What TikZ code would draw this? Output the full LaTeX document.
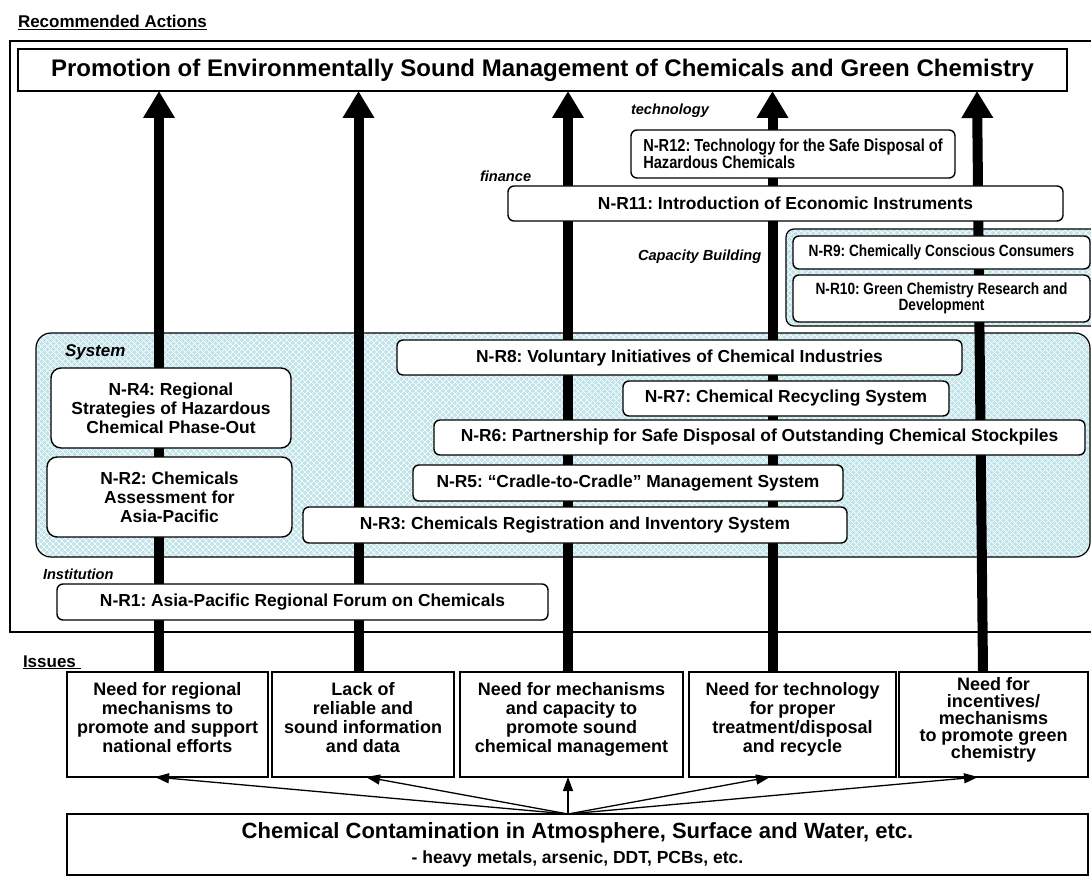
\documentclass[tikz,border=0pt]{standalone}
\usepackage{fontspec}
\setmainfont{Liberation Sans}
\newfontfamily\condensed[FakeStretch=0.84]{Liberation Sans}
\usetikzlibrary{arrows.meta,patterns.meta}
\pgfdeclarelayer{panel}
\pgfdeclarelayer{flow}
\pgfsetlayers{panel,flow,main}
\definecolor{panelblue}{RGB}{192,228,234}
% extra depth on the last line lifts the text block a little inside its box
\newcommand\liftup{\rule[-14pt]{0pt}{0pt}}
\begin{document}
\frenchspacing
\begin{tikzpicture}[x=1pt,y=-1pt,
  every node/.style={inner sep=0pt,outer sep=0pt},
  txt/.style={font=\fontsize{17.4}{19}\selectfont\bfseries},
  rbox/.style={draw=black,line width=1.4pt,fill=white,rounded corners=6pt,align=center,txt},
  sqbox/.style={draw=black,line width=1.6pt,fill=white,align=center},
  issuebox/.style={sqbox,minimum height=105pt,font=\fontsize{18}{19}\selectfont\bfseries},
  panel/.style={draw=black,line width=1.2pt,
     preaction={fill=panelblue},
     preaction={pattern={Lines[angle=45,distance=4pt,line width=0.7pt]},pattern color=white},
     preaction={pattern={Lines[angle=-45,distance=4pt,line width=0.7pt]},pattern color=white}},
  tag/.style={font=\fontsize{14.6}{16}\selectfont\bfseries\itshape,anchor=west},
  heading/.style={font=\fontsize{17}{19}\selectfont\bfseries,anchor=base west},
  flowarrow/.style={line width=10pt,-{Triangle[width=30pt,length=27pt]}},
  feedarrow/.style={line width=1.3pt,-{Triangle[width=10pt,length=14pt]}}
]
\useasboundingbox (0,0) rectangle (1091,877);

% outer frame of the recommended actions
\draw[line width=1.8pt] (1100,41) -- (10,41) -- (10,632) -- (1100,632);

% headings
\node[heading] (hdrec) at (18,28) {\underline{Recommended Actions}};
\node[heading] (hdiss) at (23,667) {\underline{Issues~}};

% goal
\node[sqbox,minimum width=1049pt,minimum height=42pt,font=\fontsize{24}{26}\selectfont\bfseries] (goal) at (542.5,70)
  {Promotion of Environmentally Sound Management of Chemicals and Green Chemistry};

% shaded groups
\begin{pgfonlayer}{panel}
\node[panel,rounded corners=8pt,minimum width=330pt,minimum height=97pt] (capzone) at (951,277.5) {};
\node[panel,rounded corners=15pt,minimum width=1054pt,minimum height=224pt] (syszone) at (563,445) {};
\end{pgfonlayer}

% technology / finance / capacity building
\node[tag] (ltech) at (631,111) {technology};
\node[rbox,minimum width=324pt,minimum height=48pt,align=left,font=\condensed\fontsize{17.4}{15}\selectfont\bfseries] (r12) at (793,154)
  {N-R12: Technology for the Safe Disposal of\\Hazardous Chemicals};
\node[tag] (lfin) at (480,176) {finance};
\node[rbox,minimum width=555pt,minimum height=35pt] (r11) at (785.5,203.5) {N-R11: Introduction of Economic Instruments};
\node[tag] (lcap) at (638,257) {Capacity Building};
\node[rbox,minimum width=297pt,minimum height=33pt,font=\condensed\fontsize{16.3}{17}\selectfont\bfseries] (r9) at (941.5,252.5)
  {N-R9: Chemically Conscious Consumers};
\node[rbox,minimum width=297pt,minimum height=47pt,font=\condensed\fontsize{16.3}{16}\selectfont\bfseries] (r10) at (941.5,298.5)
  {N-R10: Green Chemistry Research and\\Development};

% system
\node[tag,font=\fontsize{17}{19}\selectfont\bfseries\itshape] (lsys) at (65,352) {System};
\node[rbox,minimum width=565pt,minimum height=35pt] (r8) at (679.5,357.5) {N-R8: Voluntary Initiatives of Chemical Industries};
\node[rbox,minimum width=326pt,minimum height=35pt] (r7) at (786,398.5) {N-R7: Chemical Recycling System};
\node[rbox,minimum width=651pt,minimum height=35pt] (r6) at (759.5,437.5) {N-R6: Partnership for Safe Disposal of Outstanding Chemical Stockpiles};
\node[rbox,minimum width=430pt,minimum height=36pt] (r5) at (628,483) {N-R5: ``Cradle-to-Cradle'' Management System};
\node[rbox,minimum width=544pt,minimum height=36pt] (r3) at (575,525) {N-R3: Chemicals Registration and Inventory System};
\node[rbox,minimum width=240pt,minimum height=80pt,rounded corners=10pt] (r4) at (171,408) {N-R4: Regional\\Strategies of Hazardous\\Chemical Phase-Out};
\node[rbox,minimum width=245pt,minimum height=80pt,rounded corners=10pt] (r2) at (169.5,497) {N-R2: Chemicals\\Assessment for\\Asia-Pacific};

% institution
\node[tag] (linst) at (43,574) {Institution};
\node[rbox,minimum width=491pt,minimum height=36pt] (r1) at (302.5,602) {N-R1: Asia-Pacific Regional Forum on Chemicals};

% issues
\node[issuebox,minimum width=201pt] (i1) at (167.5,724.5) {Need for regional\\mechanisms to\\promote and support\\national efforts\liftup};
\node[issuebox,minimum width=182pt] (i2) at (363,724.5) {Lack of\\reliable and\\sound information\\and data\liftup};
\node[issuebox,minimum width=223pt] (i3) at (571.5,724.5) {Need for mechanisms\\and capacity to\\promote sound\\chemical management\liftup};
\node[issuebox,minimum width=207pt] (i4) at (792.5,724.5) {Need for technology\\for proper\\treatment/disposal\\and recycle\liftup};
\node[issuebox,minimum width=189pt,font=\fontsize{18}{17}\selectfont\bfseries] (i5) at (993.5,724.5) {Need for\\incentives/\\mechanisms\\to promote green\\chemistry\liftup};

% source
\node[sqbox,minimum width=1021pt,minimum height=61pt,font=\bfseries] (src) at (577.5,844.5)
  {\fontsize{22}{26}\selectfont Chemical Contamination in Atmosphere, Surface and Water, etc.\\[7pt]
   \fontsize{17.5}{26}\selectfont - heavy metals, arsenic, DDT, PCBs, etc.};

% arrow columns
\coordinate (x1) at (159,0);
\coordinate (x2) at (358.5,0);
\coordinate (x3) at (568,0);
\coordinate (x4) at (772.5,0);
\coordinate (x5b) at (983,0);
\coordinate (x5t) at (977,0);

\begin{pgfonlayer}{flow}
\draw[flowarrow] (i1.north -| x1) -- (goal.south -| x1);
\draw[flowarrow] (i2.north -| x2) -- (goal.south -| x2);
\draw[flowarrow] (i3.north -| x3) -- (goal.south -| x3);
\draw[flowarrow] (i4.north -| x4) -- (goal.south -| x4);
\draw[flowarrow] (i5.north -| x5b) -- (goal.south -| x5t);
\end{pgfonlayer}

% contamination feeds every issue
\coordinate (fork) at (src.north -| x3);
\draw[feedarrow] (fork) -- ([xshift=-12.5pt]i1.south);
\draw[feedarrow] (fork) -- ([xshift=3pt]i2.south);
\draw[feedarrow] (fork) -- (i3.south -| x3);
\draw[feedarrow] (fork) -- ([xshift=-22.5pt]i4.south);
\draw[feedarrow] (fork) -- ([xshift=-15.5pt]i5.south);
\end{tikzpicture}
\end{document}
